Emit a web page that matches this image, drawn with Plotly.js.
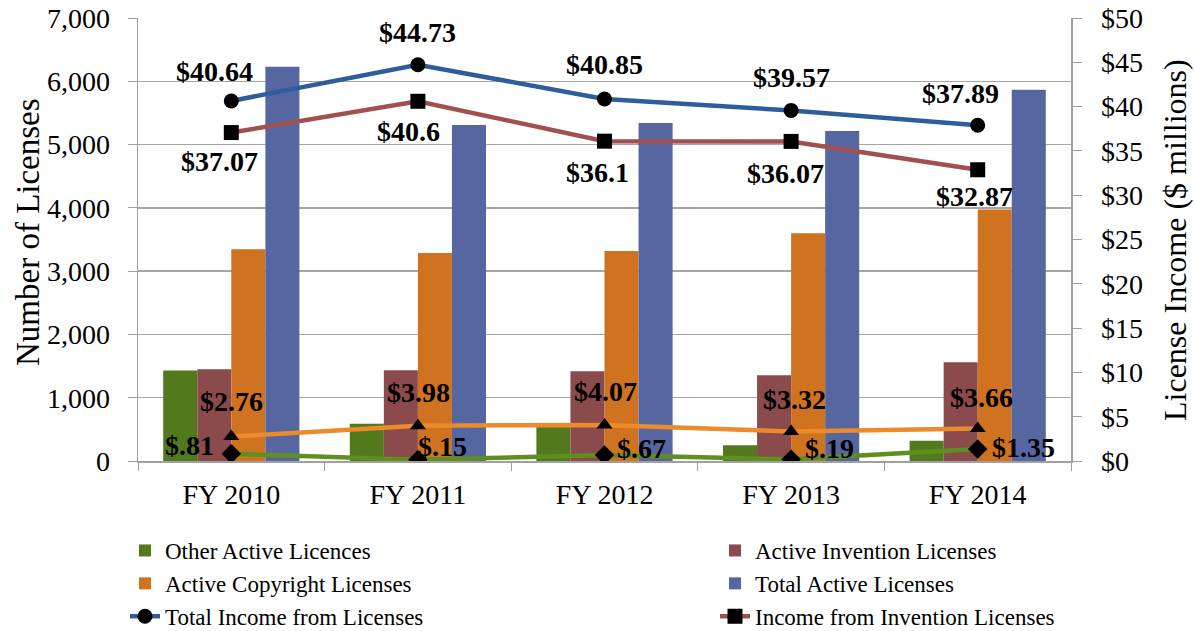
<!DOCTYPE html>
<html>
<head>
<meta charset="utf-8">
<script src="https://cdn.plot.ly/plotly-3.0.1.min.js"></script>
<style>html,body{margin:0;padding:0;background:#fff;}#chart{width:1195px;height:631px;}</style>
</head>
<body>
<div id="chart"></div>
<script>
// ---- data ----
const years = ['FY 2010', 'FY 2011', 'FY 2012', 'FY 2013', 'FY 2014'];
const otherActive = [1430, 590, 560, 250, 320];
const inventionActive = [1450, 1435, 1420, 1355, 1560];
const copyrightActive = [3345, 3285, 3320, 3600, 3975];
const totalActive = [6230, 5310, 5340, 5215, 5865];
const totalIncome = [40.64, 44.73, 40.85, 39.57, 37.89];
const inventionIncome = [37.07, 40.6, 36.1, 36.07, 32.87];
const copyrightIncome = [2.76, 3.98, 4.07, 3.32, 3.66];
const otherIncome = [0.81, 0.15, 0.67, 0.19, 1.35];
const totalIncomeLabels = ['$40.64', '$44.73', '$40.85', '$39.57', '$37.89'];
const inventionIncomeLabels = ['$37.07', '$40.6', '$36.1', '$36.07', '$32.87'];
const copyrightIncomeLabels = ['$2.76', '$3.98', '$4.07', '$3.32', '$3.66'];
const otherIncomeLabels = ['$.81', '$.15', '$.67', '$.19', '$1.35'];
const leftTitle = 'Number of Licenses';
const rightTitle = 'License Income ($ millions)';

// ---- label offsets (style, px) ----
const totalShift = {x: [-17, 0, 0, 0, -17], y: [29, 32, 35, 33, 32]};
const inventionShift = {x: [-12, -9, -7, -6, -3], y: [-29, -30, -31, -32, -27]};
const copyrightShift = {x: [0, 1, 1, 3, 4], y: [35, 33, 33, 32, 31]};
const otherShift = {x: [-42, 25, 37, 38, 46], y: [8, 13, 7, 11, 2]};

const serif = 'Liberation Serif, Times New Roman, serif';
const C = {
  greenBar: '#527a1d', redBar: '#8b4a4c', orangeBar: '#cf7321', blueBar: '#5666a1',
  blueLine: '#2f5c9b', redLine: '#a0504f', orangeLine: '#eb8b2a', greenLine: '#5f8f1f'
};

const bar = (name, y, color, legend) => ({
  type: 'bar', name: name, x: years, y: y, marker: {color: color}, legend: legend, yaxis: 'y'
});
const line = (name, y, color, symbol, size, legend, show) => ({
  type: 'scatter', mode: 'lines+markers', name: name, x: years, y: y, yaxis: 'y2',
  line: {color: color, width: 4.5},
  marker: {color: '#000', symbol: symbol, size: size},
  legend: legend, showlegend: show
});

const data = [
  bar('Other Active Licences', otherActive, C.greenBar, 'legend'),
  bar('Active Invention Licenses', inventionActive, C.redBar, 'legend2'),
  bar('Active Copyright Licenses', copyrightActive, C.orangeBar, 'legend'),
  bar('Total Active Licenses', totalActive, C.blueBar, 'legend2'),
  line('Total Income from Licenses', totalIncome, C.blueLine, 'circle', 15, 'legend', true),
  line('Income from Invention Licenses', inventionIncome, C.redLine, 'square', 15, 'legend2', true),
  line('Income from Copyright Licenses', copyrightIncome, C.orangeLine, 'triangle-up', 14, 'legend', false),
  line('Income from Other Licenses', otherIncome, C.greenLine, 'diamond', 15, 'legend', false)
];

const annotations = [];
function addLabels(values, labels, shift) {
  values.forEach((v, i) => {
    annotations.push({
      xref: 'x', yref: 'y2', x: years[i], y: v, text: labels[i], showarrow: false,
      xanchor: 'center', yanchor: 'middle', xshift: shift.x[i], yshift: shift.y[i],
      font: {family: serif, size: 28, color: '#000', weight: 'bold'}
    });
  });
}
addLabels(totalIncome, totalIncomeLabels, totalShift);
addLabels(inventionIncome, inventionIncomeLabels, inventionShift);
addLabels(copyrightIncome, copyrightIncomeLabels, copyrightShift);
addLabels(otherIncome, otherIncomeLabels, otherShift);

// axis titles (rotated), placed in the margins
const plotL = 138, plotW = 933, plotT = 18, plotH = 443;
annotations.push({
  xref: 'paper', yref: 'paper', x: (28 - plotL) / plotW, y: (plotT + plotH - 232) / plotH,
  text: leftTitle, textangle: -90, showarrow: false, xanchor: 'center', yanchor: 'middle',
  font: {family: serif, size: 33, color: '#000'}
});
annotations.push({
  xref: 'paper', yref: 'paper', x: (1175 - plotL) / plotW, y: (plotT + plotH - 240) / plotH,
  text: rightTitle, textangle: -90, showarrow: false, xanchor: 'center', yanchor: 'middle',
  font: {family: serif, size: 32, color: '#000'}
});

const layout = {
  width: 1195, height: 631,
  margin: {l: plotL, r: 1195 - plotL - plotW, t: plotT, b: 631 - plotT - plotH, pad: 0, autoexpand: false},
  paper_bgcolor: '#fff', plot_bgcolor: '#fff',
  font: {family: serif, size: 28, color: '#000'},
  barmode: 'group', bargap: 0.27, bargroupgap: 0,
  xaxis: {
    type: 'category', tickson: 'boundaries', ticks: 'outside', ticklen: 8, tickcolor: '#a0a0a0',
    showline: true, linecolor: '#a0a0a0', linewidth: 1.5, showgrid: false, automargin: false,
    tickangle: 0, tickfont: {family: serif, size: 28}, ticklabelstandoff: 8
  },
  yaxis: {
    range: [0, 7000], dtick: 1000, tickformat: ',', ticks: 'outside', ticklen: 9,
    tickcolor: '#a0a0a0', showline: true, linecolor: '#a0a0a0', linewidth: 1.5,
    showgrid: true, gridcolor: '#a6a6a6', gridwidth: 1.3, zeroline: false, automargin: false,
    tickfont: {family: serif, size: 28}, ticklabelstandoff: 12
  },
  yaxis2: {
    overlaying: 'y', side: 'right', range: [0, 50], dtick: 5, tickprefix: '$',
    ticks: 'outside', ticklen: 9, tickcolor: '#a0a0a0', showline: true, linecolor: '#a0a0a0',
    linewidth: 1.5, showgrid: false, zeroline: false, automargin: false,
    tickfont: {family: serif, size: 28}, ticklabelstandoff: 14
  },
  legend: {
    xref: 'container', yref: 'container', x: 125 / 1195, y: 1 - 529 / 631,
    xanchor: 'left', yanchor: 'top', orientation: 'v', bgcolor: 'rgba(0,0,0,0)',
    font: {family: serif, size: 23, color: '#000'}, tracegroupgap: 0, traceorder: 'normal'
  },
  legend2: {
    xref: 'container', yref: 'container', x: 715 / 1195, y: 1 - 529 / 631,
    xanchor: 'left', yanchor: 'top', orientation: 'v', bgcolor: 'rgba(0,0,0,0)',
    font: {family: serif, size: 23, color: '#000'}, tracegroupgap: 0, traceorder: 'normal'
  },
  annotations: annotations
};

Plotly.newPlot('chart', data, layout, {displayModeBar: false, staticPlot: true});
</script>
</body>
</html>
